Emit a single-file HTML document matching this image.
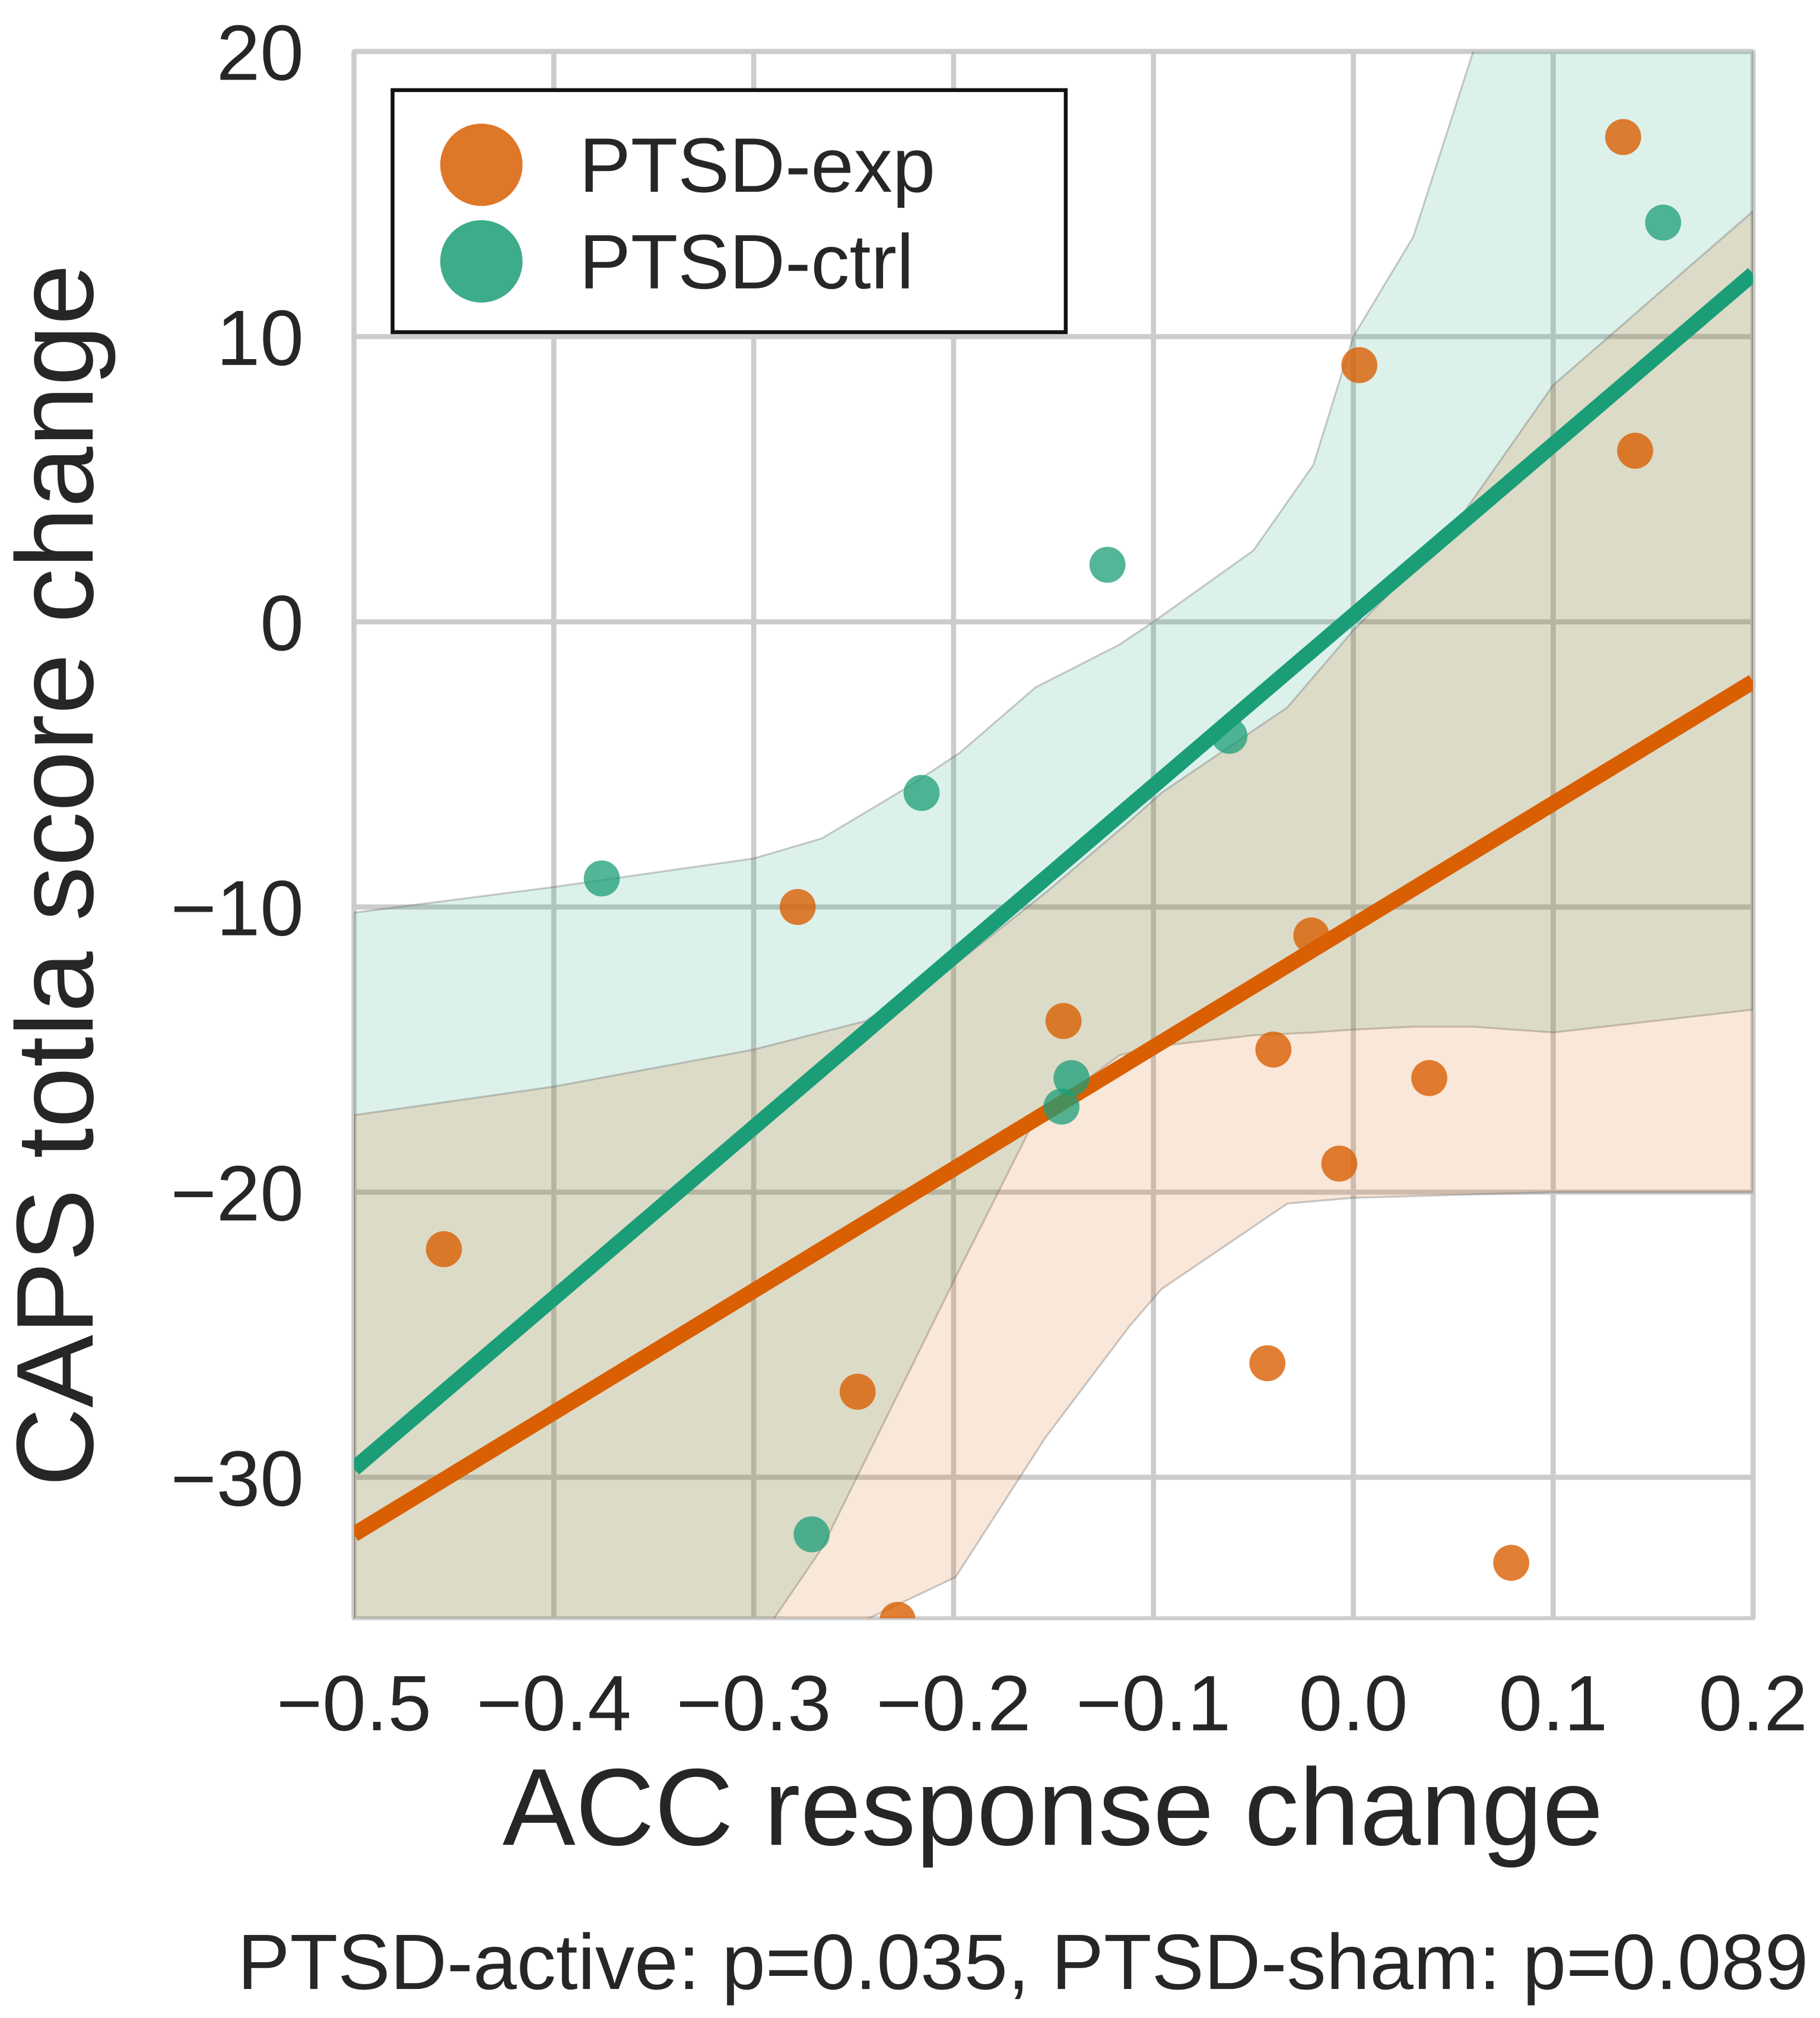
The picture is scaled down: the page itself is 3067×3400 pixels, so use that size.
<!DOCTYPE html>
<html><head><meta charset="utf-8"><style>
html,body{margin:0;padding:0;background:#fff;overflow:hidden}
svg{display:block}
text{font-family:"Liberation Sans","DejaVu Sans",sans-serif;fill:#262626}
</style></head><body>
<svg id="chart" width="3067" height="3400" viewBox="0 0 1414 1567.5" preserveAspectRatio="none" xmlns="http://www.w3.org/2000/svg">
<defs><clipPath id="plotclip"><rect x="275" y="40" width="1087" height="1217"/></clipPath></defs>
<g id="grid"></g>
<g id="bands" clip-path="url(#plotclip)"></g>
<g id="lines" clip-path="url(#plotclip)"></g>
<g id="points" clip-path="url(#plotclip)"></g>
<g id="ticks"></g>
<text x="818" y="1433" font-size="85" text-anchor="middle">ACC response change</text>
<text transform="translate(72,680) rotate(-90)" font-size="85" text-anchor="middle">CAPS totla score change</text>
<text x="1405" y="1545" font-size="61" text-anchor="end">PTSD-active: p=0.035, PTSD-sham: p=0.089</text>
<g>
<rect x="305" y="70" width="523" height="188" fill="#fff" stroke="#111" stroke-width="3"/>
<circle cx="374" cy="128" r="32" fill="#d95f02" fill-opacity="0.85"/>
<text x="450" y="149" font-size="60">PTSD-exp</text>
<circle cx="374" cy="203" r="32" fill="#1b9e77" fill-opacity="0.85"/>
<text x="450" y="224" font-size="60">PTSD-ctrl</text>
</g>
</svg>
<script>
const xTicks=[-0.5,-0.4,-0.3,-0.2,-0.1,0.0,0.1,0.2];
const xTickLabels=["−0.5","−0.4","−0.3","−0.2","−0.1","0.0","0.1","0.2"];
const yTicks=[20,10,0,-10,-20,-30];
const yTickLabels=["20","10","0","−10","−20","−30"];
const expX=[0.135,0.003,0.141,-0.278,-0.021,-0.145,-0.040,0.038,-0.007,-0.455,-0.043,-0.248,0.079,-0.228];
const expY=[17.0,9.0,6.0,-10.0,-11.0,-14.0,-15.0,-16.0,-19.0,-22.0,-26.0,-27.0,-33.0,-35.0];
const ctrlX=[0.155,-0.123,-0.062,-0.216,-0.376,-0.141,-0.146,-0.271];
const ctrlY=[14.0,2.0,-4.0,-6.0,-9.0,-16.0,-17.0,-32.0];
const expLine=[[-0.5,-32.0],[0.2,-2.1]];
const ctrlLine=[[-0.5,-29.7],[0.2,12.2]];
const ctrlBandX=[-0.5,-0.4,-0.3,-0.266,-0.223,-0.197,-0.159,-0.117,-0.1,-0.05,-0.02,0.0,0.03,0.06,0.1,0.2];
const ctrlUpper=[-10.2,-9.3,-8.3,-7.6,-5.8,-4.6,-2.3,-0.8,0.0,2.5,5.5,10.0,13.5,20,25,30];
const ctrlLower=[-45,-42,-36,-32.5,-26.4,-22.7,-17.4,-15.2,-14.9,-14.5,-14.4,-14.3,-14.2,-14.2,-14.4,-13.6];
const expBandX=[-0.5,-0.4,-0.3,-0.244,-0.199,-0.154,-0.112,-0.096,-0.033,0.0,0.05,0.1,0.2];
const expUpper=[-17.3,-16.3,-15.0,-14.0,-12.0,-9.5,-7.0,-6.0,-3.0,-0.3,3.3,8.3,14.4];
const expLower=[-48,-44,-38,-35,-33.5,-28.6,-24.7,-23.4,-20.4,-20.2,-20.1,-20.0,-20.0];

const L=275,R=1362,T=40,B=1257;
const sx=v=>L+(v+0.5)/0.7*(R-L);
const sy=v=>483-v*22.15;
const NS="http://www.w3.org/2000/svg";
function mk(tag,attrs,parent){const e=document.createElementNS(NS,tag);for(const k in attrs)e.setAttribute(k,attrs[k]);parent.appendChild(e);return e;}
const grid=document.getElementById('grid'),ticks=document.getElementById('ticks');
mk('rect',{x:L,y:T,width:R-L,height:B-T,fill:'none',stroke:'#cccccc','stroke-width':3},grid);
xTicks.forEach((v,i)=>{
  const ln=mk('line',{x1:sx(v),x2:sx(v),y1:T,y2:B,stroke:'#cccccc','stroke-width':4},grid);
  
  
  const t=mk('text',{x:sx(v),y:1344,'font-size':61,'text-anchor':'middle'},ticks);
  t.textContent=xTickLabels[i];
  
  
});
yTicks.forEach((v,i)=>{
  const ln=mk('line',{x1:L,x2:R,y1:sy(v),y2:sy(v),stroke:'#cccccc','stroke-width':4},grid);
  
  
  const t=mk('text',{x:236,y:sy(v)+22,'font-size':61,'text-anchor':'end'},ticks);
  t.textContent=yTickLabels[i];
  
  
});
const bands=document.getElementById('bands');
function band(xs,up,lo,color,name){
  let d='M'+xs.map((x,i)=>sx(x)+','+sy(up[i])).join(' L');
  d+=' L'+xs.slice().reverse().map((x,j)=>sx(x)+','+sy(lo[xs.length-1-j])).join(' L')+' Z';
  const p=mk('path',{d:d,fill:color,'fill-opacity':0.15,stroke:'#555','stroke-opacity':0.3,'stroke-width':1.5},bands);
  
  
}
band(ctrlBandX,ctrlUpper,ctrlLower,'#1b9e77','ctrl-ci-band');
band(expBandX,expUpper,expLower,'#d95f02','exp-ci-band');
const lines=document.getElementById('lines');
function line(pts,color,name){
  const l=mk('line',{x1:sx(pts[0][0]),y1:sy(pts[0][1]),x2:sx(pts[1][0]),y2:sy(pts[1][1]),stroke:color,'stroke-width':12},lines);
  
  
}
line(ctrlLine,'#1b9e77','ctrl-regression-line');
line(expLine,'#d95f02','exp-regression-line');
const pts=document.getElementById('points');
expX.forEach((x,i)=>{
  const c=mk('circle',{cx:sx(x),cy:sy(expY[i]),r:14,fill:'#d95f02','fill-opacity':0.8},pts);
  
  
});
ctrlX.forEach((x,i)=>{
  const c=mk('circle',{cx:sx(x),cy:sy(ctrlY[i]),r:14,fill:'#1b9e77','fill-opacity':0.75},pts);
  
  
});
</script>
</body></html>
